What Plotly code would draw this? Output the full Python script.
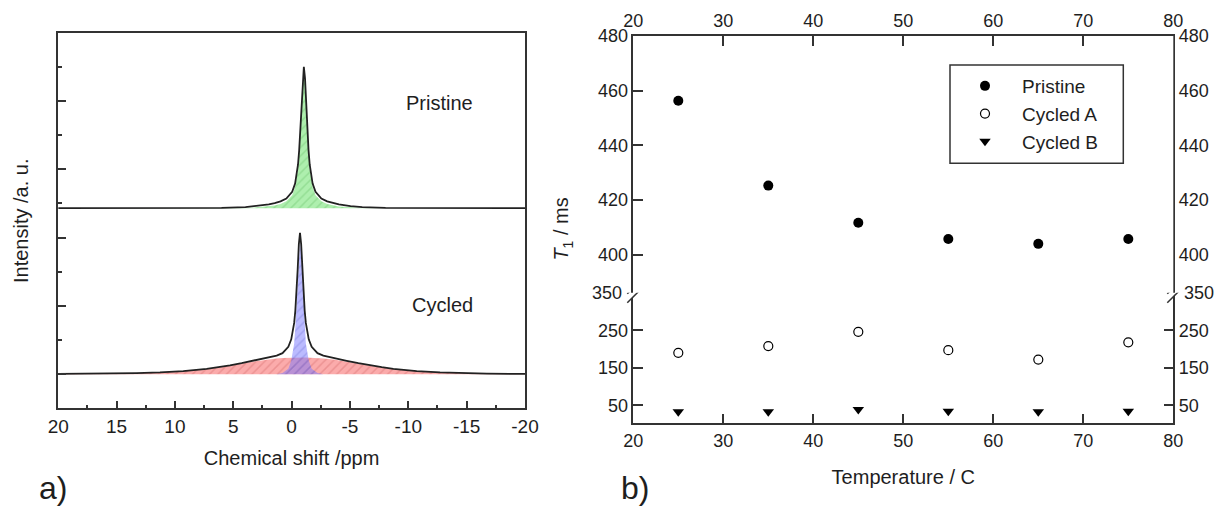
import plotly.graph_objects as go

# ---------------- a) 1H NMR spectra ----------------
# chemical shift (ppm) sampled along the pristine spectrum
p_ppm = [20.0, 9.0, 6.0, 3.95, 2.95, 1.95, 1.45, 0.95, 0.45, -0.05, -0.30, -0.55, -0.65,
         -0.75, -0.85, -0.95, -1.05, -1.15, -1.25, -1.35, -1.45, -1.55, -1.80, -2.05,
         -2.55, -3.05, -3.55, -4.05, -5.05, -6.05, -8.05, -11.0, -20.0]
# measured intensity (black) and fitted component (green)
p_total = [0.0, 0.002, 0.005, 0.015, 0.03, 0.055, 0.075, 0.10, 0.14, 0.24, 0.36, 0.64, 0.85,
           1.15, 1.52, 1.90, 2.07, 1.90, 1.52, 1.15, 0.85, 0.64, 0.36, 0.24,
           0.14, 0.10, 0.075, 0.055, 0.03, 0.015, 0.005, 0.002, 0.0]
p_fit = [0.0, 0.0, 0.0, 0.004, 0.012, 0.025, 0.04, 0.06, 0.10, 0.19, 0.31, 0.58, 0.80,
         1.10, 1.47, 1.85, 2.03, 1.85, 1.47, 1.10, 0.80, 0.58, 0.31, 0.19,
         0.10, 0.06, 0.04, 0.025, 0.012, 0.004, 0.0, 0.0, 0.0]

# cycled spectrum
c_ppm = [20.0, 18.28, 15.28, 13.28, 11.28, 9.28, 7.28, 6.28, 5.28, 4.28, 3.28, 2.28, 1.28,
         0.78, 0.28, 0.03, -0.22, -0.32, -0.42, -0.52, -0.62, -0.72, -0.82, -0.92, -1.02,
         -1.12, -1.22, -1.47, -1.72, -2.22, -2.72, -3.72, -4.72, -5.72, -6.72, -7.72,
         -8.72, -10.72, -12.72, -14.72, -16.72, -18.72, -20.0]
c_total = [0.003, 0.004, 0.009, 0.015, 0.026, 0.045, 0.078, 0.102, 0.13, 0.162, 0.196, 0.229,
           0.271, 0.307, 0.40, 0.51, 0.75, 0.93, 1.19, 1.53, 1.90, 2.07, 1.90, 1.53, 1.19,
           0.93, 0.75, 0.51, 0.40, 0.307, 0.271, 0.229, 0.196, 0.162, 0.13, 0.102,
           0.078, 0.045, 0.026, 0.015, 0.009, 0.005, 0.004]
c_broad = [0.002, 0.003, 0.008, 0.014, 0.025, 0.043, 0.075, 0.098, 0.125, 0.155, 0.185, 0.21,
           0.228, 0.235, 0.24, 0.242, 0.244, 0.244, 0.245, 0.245, 0.245, 0.245, 0.245, 0.245,
           0.245, 0.244, 0.244, 0.242, 0.24, 0.235, 0.228, 0.21, 0.185, 0.155, 0.125, 0.098,
           0.075, 0.043, 0.025, 0.014, 0.008, 0.004, 0.003]
c_narrow = [0.0, 0.0, 0.0, 0.0, 0.0, 0.0, 0.0, 0.0, 0.0, 0.0, 0.0, 0.0,
            0.0, 0.015, 0.08, 0.20, 0.45, 0.68, 1.00, 1.40, 1.78, 1.95, 1.78, 1.40, 1.00,
            0.68, 0.45, 0.20, 0.08, 0.015, 0.0, 0.0, 0.0, 0.0, 0.0, 0.0,
            0.0, 0.0, 0.0, 0.0, 0.0, 0.0, 0.0]

# vertical stacking offsets of the two spectra
off_pristine = 2.93
off_cycled = 0.50

# ---------------- b) T1 vs temperature ----------------
temp = [25, 35, 45, 55, 65, 75]
t1_pristine = [456.3, 425.3, 411.7, 405.8, 404.0, 405.8]
t1_cycled_a = [190, 208, 246, 197, 172, 218]
t1_cycled_b = [33, 33, 39, 34, 33, 34]

FONT = "Liberation Sans, Arial, sans-serif"
INK = "#1e1e1e"
AX = "#333333"

fig = go.Figure()

def baseline(off):
    return go.Scatter(x=[20, -20], y=[off, off], mode="lines", line=dict(width=0),
                      showlegend=False, hoverinfo="skip", xaxis="x", yaxis="y")

# pristine
fig.add_trace(baseline(off_pristine))
fig.add_trace(go.Scatter(x=p_ppm, y=[v + off_pristine for v in p_fit], mode="lines",
                         line=dict(width=0), fill="tonexty",
                         fillpattern=dict(shape="/", bgcolor="rgba(120,228,120,0.6)",
                                          fgcolor="rgba(70,170,70,0.5)", size=6, solidity=0.25),
                         showlegend=False, xaxis="x", yaxis="y"))
fig.add_trace(go.Scatter(x=p_ppm, y=[v + off_pristine for v in p_total], mode="lines",
                         line=dict(color="#222222", width=1.8), showlegend=False,
                         xaxis="x", yaxis="y"))
# cycled
fig.add_trace(baseline(off_cycled))
fig.add_trace(go.Scatter(x=c_ppm, y=[v + off_cycled for v in c_broad], mode="lines",
                         line=dict(width=0), fill="tonexty",
                         fillpattern=dict(shape="/", bgcolor="rgba(248,115,115,0.6)",
                                          fgcolor="rgba(190,70,70,0.5)", size=6, solidity=0.25),
                         showlegend=False, xaxis="x", yaxis="y"))
fig.add_trace(baseline(off_cycled))
fig.add_trace(go.Scatter(x=c_ppm, y=[v + off_cycled for v in c_narrow], mode="lines",
                         line=dict(width=0), fill="tonexty",
                         fillpattern=dict(shape="/", bgcolor="rgba(120,120,255,0.5)",
                                          fgcolor="rgba(70,70,190,0.45)", size=6, solidity=0.25),
                         showlegend=False, xaxis="x", yaxis="y"))
fig.add_trace(go.Scatter(x=c_ppm, y=[v + off_cycled for v in c_total], mode="lines",
                         line=dict(color="#222222", width=1.8), showlegend=False,
                         xaxis="x", yaxis="y"))

# right panel
fig.add_trace(go.Scatter(x=temp, y=t1_pristine, mode="markers", name="Pristine",
                         marker=dict(symbol="circle", size=10, color="black"),
                         xaxis="x3", yaxis="y3"))
fig.add_trace(go.Scatter(x=temp, y=t1_cycled_a, mode="markers", name="Cycled A",
                         marker=dict(symbol="circle-open", size=9, color="black",
                                     line=dict(width=1.2)),
                         xaxis="x2", yaxis="y2"))
fig.add_trace(go.Scatter(x=temp, y=t1_cycled_b, mode="markers", name="Cycled B",
                         marker=dict(symbol="triangle-down", size=10, color="black"),
                         xaxis="x2", yaxis="y2"))
# empty traces so the right-hand axes are drawn
fig.add_trace(go.Scatter(x=[None], y=[None], xaxis="x2", yaxis="y4", showlegend=False))
fig.add_trace(go.Scatter(x=[None], y=[None], xaxis="x2", yaxis="y5", showlegend=False))

W, H = 1216, 506
def fx(px):
    return px / W
def fy(py):
    return 1 - py / H

tickfont = dict(family=FONT, size=18, color=INK)
titlefont = dict(family=FONT, size=20, color=INK)
line_kw = dict(showline=True, linecolor=AX, linewidth=1.5, showgrid=False, zeroline=False,
               tickcolor=AX, tickwidth=1.5, tickfont=tickfont, automargin=False)

ppm_ticks = [20, 15, 10, 5, 0, -5, -10, -15, -20]
temp_range = [20, 80]
upper_range = [386.1, 480]
lower_range = [2, 350]

fig.update_layout(
    width=W, height=H, margin=dict(l=0, r=0, t=0, b=0, autoexpand=False),
    paper_bgcolor="white", plot_bgcolor="white",
    font=dict(family=FONT, color=INK),
    showlegend=True,
    legend=dict(x=fx(948), y=fy(67), xanchor="left", yanchor="top", traceorder="normal",
                bgcolor="rgba(0,0,0,0)", borderwidth=0, itemwidth=64,
                font=dict(family=FONT, size=19, color=INK)),
    xaxis=dict(domain=[fx(58.2), fx(525)], anchor="y", range=[20, -20],
               tickmode="array", tickvals=ppm_ticks, ticktext=[str(v) for v in ppm_ticks],
               ticks="inside", ticklen=8, mirror=True,
               minor=dict(tickmode="array", tickvals=[17.5, 12.5, 7.5, 2.5, -2.5, -7.5, -12.5, -17.5],
                          ticks="inside", ticklen=4, tickcolor=AX, tickwidth=1.5),
               title=dict(text="Chemical shift /ppm", font=titlefont, standoff=15),
               **{**line_kw, "tickfont": dict(family=FONT, size=19, color=INK)}),
    yaxis=dict(domain=[fy(408.3), fy(33.3)], anchor="x", range=[0, 5.49],
               tickmode="array", tickvals=[0.5, 1.5, 2.5, 3.5, 4.5], showticklabels=False,
               ticks="inside", ticklen=8, mirror=True,
               minor=dict(tickmode="array", tickvals=[1, 2, 3, 4, 5],
                          ticks="inside", ticklen=4, tickcolor=AX, tickwidth=1.5),
               title=dict(text="Intensity /a. u.", font=titlefont, standoff=22),
               **line_kw),
    xaxis2=dict(domain=[fx(633.3), fx(1173.3)], anchor="y2", range=temp_range, dtick=10,
                ticks="inside", ticklen=10,
                title=dict(text="Temperature / C", font=titlefont, standoff=20),
                **line_kw),
    xaxis3=dict(overlaying="x2", anchor="y3", side="top", range=temp_range, dtick=10,
                ticks="inside", ticklen=10, **line_kw),
    yaxis2=dict(domain=[fy(423.3), fy(292.8)], anchor="x2", range=lower_range,
                tickmode="array", tickvals=[50, 150, 250], ticks="inside", ticklen=10,
                **line_kw),
    yaxis3=dict(domain=[fy(292.8), fy(36)], anchor="x2", range=upper_range,
                tickmode="array", tickvals=[400, 420, 440, 460, 480], ticks="inside", ticklen=10,
                **line_kw),
    yaxis4=dict(overlaying="y2", anchor="x2", side="right", range=lower_range,
                tickmode="array", tickvals=[50, 150, 250], ticks="inside", ticklen=10,
                **line_kw),
    yaxis5=dict(overlaying="y3", anchor="x2", side="right", range=upper_range,
                tickmode="array", tickvals=[400, 420, 440, 460, 480], ticks="inside", ticklen=10,
                **line_kw),
)

# legend frame
fig.add_shape(type="rect", xref="paper", yref="paper", x0=fx(950), x1=fx(1123.3),
              y0=fy(163.3), y1=fy(65), line=dict(color=AX, width=1.5), layer="above")

# axis break marks on both sides of the right panel
for side in [0, 1]:
    fig.add_shape(type="path", xref="x2 domain", yref="y2", xsizemode="pixel", ysizemode="pixel",
                  xanchor=side, yanchor=350, path="M -5,-9 L 6,3 L 6,12 L -5,0 Z",
                  fillcolor="white", line=dict(width=0), layer="above")
    for dy in [0, -9]:
        fig.add_shape(type="line", xref="x2 domain", yref="y2", xsizemode="pixel",
                      ysizemode="pixel", xanchor=side, yanchor=350,
                      x0=-6, x1=7, y0=dy - 1, y1=dy + 12,
                      line=dict(color=AX, width=1.5), layer="above")

annos = [
    dict(text="Pristine", x=-12.7, y=4.47, xref="x", yref="y", showarrow=False,
         font=dict(family=FONT, size=20, color=INK)),
    dict(text="Cycled", x=-12.97, y=1.505, xref="x", yref="y", showarrow=False,
         font=dict(family=FONT, size=20, color=INK)),
    dict(text="350", x=0, y=350, xref="x2 domain", yref="y2", xanchor="right",
         xshift=-9, showarrow=False, font=tickfont),
    dict(text="350", x=1, y=350, xref="x2 domain", yref="y2", xanchor="left",
         xshift=9, showarrow=False, font=tickfont),
    dict(text="<i>T</i><sub>1</sub> / ms", x=fx(563), y=fy(229.6), xref="paper", yref="paper",
         textangle=-90, showarrow=False, font=titlefont),
    dict(text="a)", x=fx(37), y=fy(508), xref="paper", yref="paper", yanchor="bottom",
         showarrow=False, font=dict(family=FONT, size=32, color=INK)),
    dict(text="b)", x=fx(635), y=fy(508), xref="paper", yref="paper", yanchor="bottom",
         showarrow=False, font=dict(family=FONT, size=32, color=INK)),
]
fig.update_layout(annotations=annos)

# drop the default 8px page margin so the figure sits at the window's corner
fig.write_html("out.html", config={"displayModeBar": False},
               post_script="document.body.style.margin = '0px';")
